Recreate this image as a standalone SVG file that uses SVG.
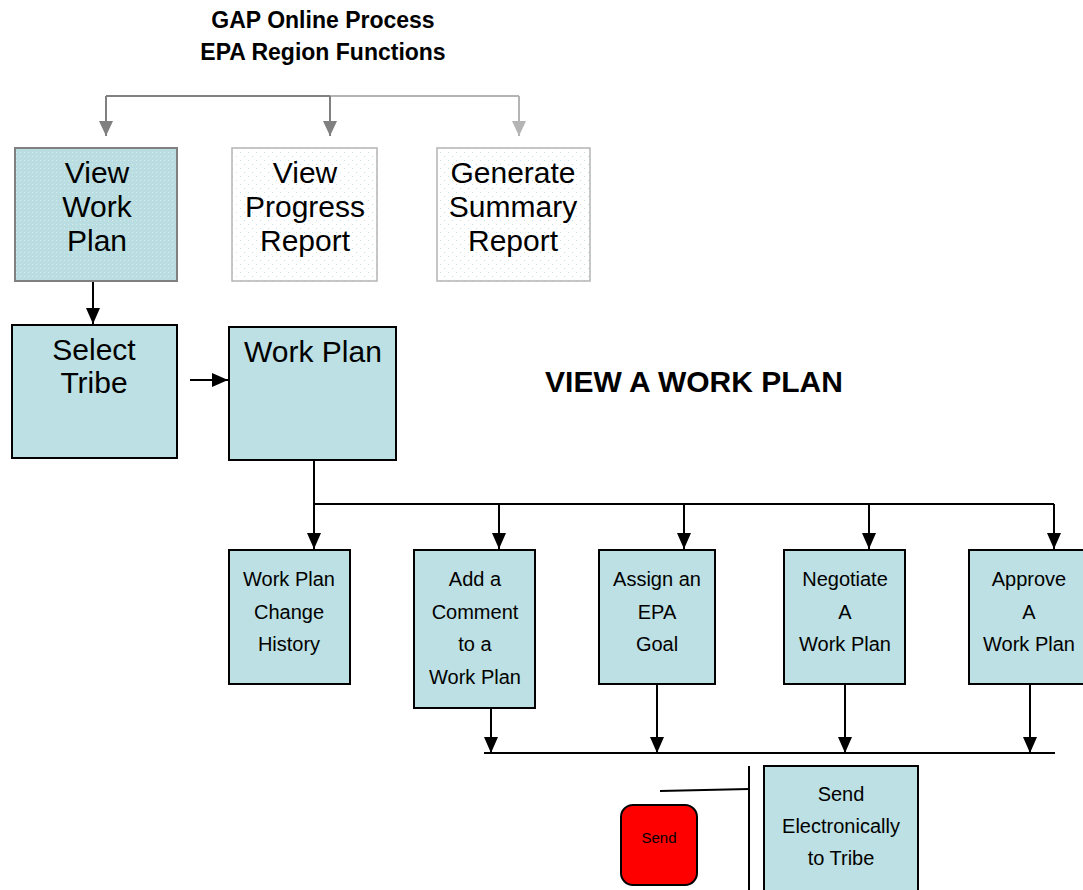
<svg xmlns="http://www.w3.org/2000/svg" width="1083" height="890" viewBox="0 0 1083 890">
<style>
text{font-family:"Liberation Sans",Arial,sans-serif;fill:#000;text-anchor:middle}
.t{font-weight:bold;font-size:23px}
.big{font-size:30px}
.mid{font-size:20px}
.box{fill:#bce0e3;stroke:#000;stroke-width:2}
.c{fill:none;stroke:#000;stroke-width:2}
.g{fill:none;stroke:#808080;stroke-width:2}
.lg{fill:none;stroke:#b4b4b4;stroke-width:2}
</style>
<defs>
<pattern id="dt" width="4" height="4" patternUnits="userSpaceOnUse"><rect width="4" height="4" fill="#b9dde0"/><rect width="1" height="1" fill="#d6ecee"/></pattern>
<pattern id="dw" width="8" height="8" patternUnits="userSpaceOnUse"><rect width="8" height="8" fill="#fff"/><rect width="1" height="1" fill="#c6e2e4"/><rect x="4" y="4" width="1" height="1" fill="#c6e2e4"/></pattern>
<marker id="ab" markerWidth="16" markerHeight="14" refX="16" refY="7" orient="auto" markerUnits="userSpaceOnUse"><path d="M0,0 L16,7 L0,14 z" fill="#000"/></marker>
<marker id="ag" markerWidth="15" markerHeight="14" refX="15" refY="7" orient="auto" markerUnits="userSpaceOnUse"><path d="M0,0 L15,7 L0,14 z" fill="#808080"/></marker>
<marker id="al" markerWidth="15" markerHeight="14" refX="15" refY="7" orient="auto" markerUnits="userSpaceOnUse"><path d="M0,0 L15,7 L0,14 z" fill="#b4b4b4"/></marker>
</defs>
<rect width="1083" height="890" fill="#fff"/>
<g id="title">
<text class="t" x="323" y="28">GAP Online Process</text>
<text class="t" x="323" y="60">EPA Region Functions</text>
</g>
<g id="heading"><text x="694" y="392" style="font-weight:bold;font-size:30px">VIEW A WORK PLAN</text></g>
<g id="connectors">
<path class="g" d="M106,96 H330"/>
<path class="lg" d="M330,96 H519"/>
<path class="g" d="M106,96 V136" marker-end="url(#ag)"/>
<path class="g" d="M330,96 V136" marker-end="url(#ag)"/>
<path class="lg" d="M519,96 V136" marker-end="url(#al)"/>
<path class="c" d="M93,282 V324" marker-end="url(#ab)"/>
<path class="c" d="M190,380 H228" marker-end="url(#ab)"/>
<path class="c" d="M314,460 V504 H1054"/>
<path class="c" d="M314,504 V549" marker-end="url(#ab)"/>
<path class="c" d="M499,504 V549" marker-end="url(#ab)"/>
<path class="c" d="M684,504 V549" marker-end="url(#ab)"/>
<path class="c" d="M869,504 V549" marker-end="url(#ab)"/>
<path class="c" d="M1054,504 V549" marker-end="url(#ab)"/>
<path class="c" d="M491,709 V753" marker-end="url(#ab)"/>
<path class="c" d="M657,685 V753" marker-end="url(#ab)"/>
<path class="c" d="M845,681 V753" marker-end="url(#ab)"/>
<path class="c" d="M1030,685 V753" marker-end="url(#ab)"/>
<path class="c" d="M484,753 H1055"/>
<path class="c" d="M749,766 V890"/>
<path class="c" d="M660,791 L749,789"/>
</g>
<g id="view-work-plan">
<rect x="15" y="148" width="162" height="133" fill="url(#dt)" stroke="#808080" stroke-width="2"/>
<text class="big" x="97" y="183">View</text><text class="big" x="97" y="217">Work</text><text class="big" x="97" y="251">Plan</text>
</g>
<g id="view-progress-report">
<rect x="232" y="148" width="145" height="133" fill="url(#dw)" stroke="#b4b4b4" stroke-width="1.5"/>
<text class="big" x="305" y="183">View</text><text class="big" x="305" y="217">Progress</text><text class="big" x="305" y="251">Report</text>
</g>
<g id="generate-summary-report">
<rect x="437" y="148" width="153" height="133" fill="url(#dw)" stroke="#b4b4b4" stroke-width="1.5"/>
<text class="big" x="513" y="183">Generate</text><text class="big" x="513" y="217">Summary</text><text class="big" x="513" y="251">Report</text>
</g>
<g id="select-tribe">
<rect class="box" x="12" y="325" width="165" height="133"/>
<text class="big" x="94" y="360">Select</text><text class="big" x="94" y="393">Tribe</text>
</g>
<g id="work-plan">
<rect class="box" x="229" y="327" width="167" height="133" stroke="#333"/>
<text class="big" x="313" y="362">Work Plan</text>
</g>
<g id="change-history">
<rect class="box" x="229" y="550" width="121" height="134"/>
<text class="mid" x="289" y="586">Work Plan</text><text class="mid" x="289" y="619">Change</text><text class="mid" x="289" y="651">History</text>
</g>
<g id="add-comment">
<rect class="box" x="414" y="550" width="121" height="158"/>
<text class="mid" x="475" y="586">Add a</text><text class="mid" x="475" y="619">Comment</text><text class="mid" x="475" y="651">to a</text><text class="mid" x="475" y="684">Work Plan</text>
</g>
<g id="assign-goal">
<rect class="box" x="599" y="550" width="116" height="134"/>
<text class="mid" x="657" y="586">Assign an</text><text class="mid" x="657" y="619">EPA</text><text class="mid" x="657" y="651">Goal</text>
</g>
<g id="negotiate">
<rect class="box" x="784" y="550" width="121" height="134"/>
<text class="mid" x="845" y="586">Negotiate</text><text class="mid" x="845" y="619">A</text><text class="mid" x="845" y="651">Work Plan</text>
</g>
<g id="approve">
<rect class="box" x="969" y="550" width="121" height="134"/>
<text class="mid" x="1029" y="586">Approve</text><text class="mid" x="1029" y="619">A</text><text class="mid" x="1029" y="651">Work Plan</text>
</g>
<g id="send-electronically">
<rect class="box" x="764" y="766" width="154" height="130"/>
<text class="mid" x="841" y="801">Send</text><text class="mid" x="841" y="833">Electronically</text><text class="mid" x="841" y="865">to Tribe</text>
</g>
<g id="send-button">
<rect x="621" y="805" width="76" height="80" rx="12" fill="#f00" stroke="#000" stroke-width="2"/>
<text x="659" y="843" style="font-size:15px">Send</text>
</g>
</svg>
